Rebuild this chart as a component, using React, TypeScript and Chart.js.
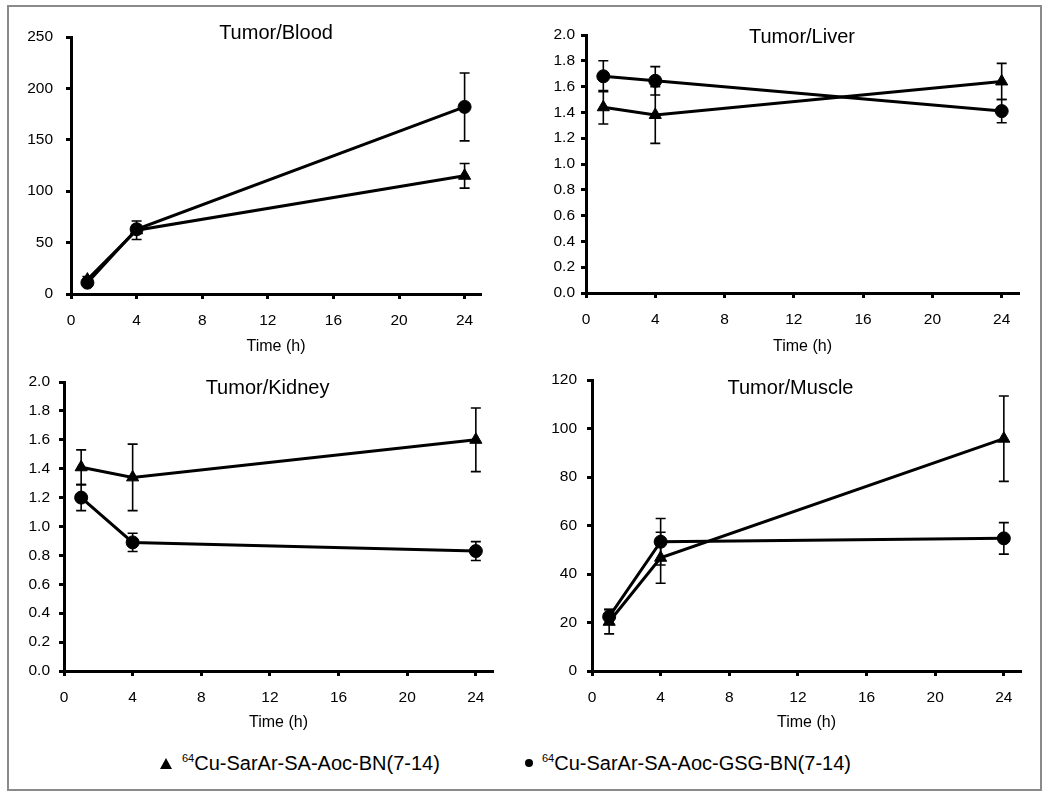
import React, { useEffect, useRef } from 'react';
import { Chart, registerables } from 'chart.js';

Chart.register(...registerables);

const FONT = "'Liberation Sans', Arial, Helvetica, sans-serif";

// ---- data ----
const timePoints = [1, 4, 24];
const xTickValues = [0, 4, 8, 12, 16, 20, 24];
const seriesLabels = ['64Cu-SarAr-SA-Aoc-BN(7-14)', '64Cu-SarAr-SA-Aoc-GSG-BN(7-14)'];
const panelTitles = ['Tumor/Blood', 'Tumor/Liver', 'Tumor/Kidney', 'Tumor/Muscle'];
const xAxisTitle = 'Time (h)';

const bloodBN = [14, 62, 115];
const bloodBNErr = [3, 9, 12];
const bloodGSG = [11, 63, 182];
const bloodGSGErr = [2, 4, 33];

const liverBN = [1.44, 1.38, 1.64];
const liverBNErr = [0.13, 0.22, 0.14];
const liverGSG = [1.68, 1.645, 1.41];
const liverGSGErr = [0.12, 0.11, 0.09];

const kidneyBN = [1.41, 1.34, 1.6];
const kidneyBNErr = [0.12, 0.23, 0.22];
const kidneyGSG = [1.2, 0.89, 0.83];
const kidneyGSGErr = [0.09, 0.063, 0.065];

const muscleBN = [20.3, 46.7, 95.8];
const muscleBNErr = [5, 10.5, 17.6];
const muscleGSG = [22.4, 53.3, 54.7];
const muscleGSGErr = [3, 9.6, 6.5];

const yRanges = [
  { max: 250, step: 50, decimals: 0 },
  { max: 2, step: 0.2, decimals: 1 },
  { max: 2, step: 0.2, decimals: 1 },
  { max: 120, step: 20, decimals: 0 },
];

// ---- plugins ----
const errorBarPlugin = {
  id: 'errorBars',
  afterDatasetsDraw(chart: any) {
    const ctx = chart.ctx;
    const xs = chart.scales.x;
    const ys = chart.scales.y;
    ctx.save();
    ctx.strokeStyle = '#000';
    ctx.lineWidth = 1.6;
    chart.data.datasets.forEach((ds: any) => {
      const errs = ds.errors;
      if (!errs) return;
      ds.data.forEach((pt: any, j: number) => {
        const px = xs.getPixelForValue(pt.x);
        const top = ys.getPixelForValue(pt.y + errs[j]);
        const bot = ys.getPixelForValue(pt.y - errs[j]);
        ctx.beginPath();
        ctx.moveTo(px, top);
        ctx.lineTo(px, bot);
        ctx.moveTo(px - 5, top);
        ctx.lineTo(px + 5, top);
        ctx.moveTo(px - 5, bot);
        ctx.lineTo(px + 5, bot);
        ctx.stroke();
      });
    });
    ctx.restore();
  },
};

const panelTitlePlugin = {
  id: 'panelTitle',
  afterDraw(chart: any, _args: any, opts: any) {
    const { ctx, chartArea } = chart;
    ctx.save();
    ctx.font = `20px ${FONT}`;
    ctx.fillStyle = '#000';
    ctx.textAlign = 'center';
    ctx.textBaseline = 'middle';
    ctx.fillText(opts.text, chartArea.left + opts.dx, chartArea.top + opts.dy);
    ctx.restore();
  },
};

type PanelProps = {
  left: number;
  top: number;
  width: number;
  height: number;
  yWidth: number;
  padTop: number;
  padRight: number;
  xHeight: number;
  yPad: number;
  titleDx: number;
  titleDy: number;
  index: number;
  bn: number[];
  bnErr: number[];
  gsg: number[];
  gsgErr: number[];
};

function Panel(p: PanelProps) {
  const ref = useRef<HTMLCanvasElement>(null);
  useEffect(() => {
    if (!ref.current) return;
    const yr = yRanges[p.index];
    const mk = (vals: number[]) => timePoints.map((t, i) => ({ x: t, y: vals[i] }));
    const chart = new Chart(ref.current, {
      type: 'line',
      data: {
        datasets: [
          {
            label: seriesLabels[0],
            data: mk(p.bn),
            errors: p.bnErr,
            borderColor: '#000',
            borderWidth: 3,
            pointStyle: 'triangle',
            pointRadius: 7,
            pointBackgroundColor: '#000',
            pointBorderColor: '#000',
            pointBorderWidth: 1,
            tension: 0,
            fill: false,
            clip: false,
          } as any,
          {
            label: seriesLabels[1],
            data: mk(p.gsg),
            errors: p.gsgErr,
            borderColor: '#000',
            borderWidth: 3,
            pointStyle: 'circle',
            pointRadius: 6.5,
            pointBackgroundColor: '#000',
            pointBorderColor: '#000',
            pointBorderWidth: 1,
            tension: 0,
            fill: false,
            clip: false,
          } as any,
        ],
      },
      options: {
        animation: false,
        responsive: false,
        maintainAspectRatio: false,
        layout: { padding: { top: p.padTop, right: p.padRight, left: 0, bottom: 0 } },
        plugins: {
          legend: { display: false },
          tooltip: { enabled: false },
          panelTitle: { text: panelTitles[p.index], dx: p.titleDx, dy: p.titleDy },
        } as any,
        scales: {
          x: {
            type: 'linear',
            min: 0,
            max: 25,
            afterBuildTicks: (s: any) => {
              s.ticks = xTickValues.map((v) => ({ value: v }));
            },
            afterFit: (s: any) => {
              s.height = p.xHeight;
            },
            ticks: {
              stepSize: 4,
              autoSkip: false,
              maxRotation: 0,
              padding: 12,
              color: '#000',
              font: { family: FONT, size: 15.5 },
            },
            grid: {
              drawOnChartArea: false,
              drawTicks: true,
              tickLength: 5,
              tickWidth: 3,
              tickColor: '#000',
            },
            border: { display: true, color: '#000', width: 3 },
            title: {
              display: true,
              text: xAxisTitle,
              color: '#000',
              font: { family: FONT, size: 16 },
              padding: { top: 0, bottom: 0 },
            },
          },
          y: {
            type: 'linear',
            min: 0,
            max: yr.max,
            afterFit: (s: any) => {
              s.width = p.yWidth;
            },
            ticks: {
              stepSize: yr.step,
              autoSkip: false,
              padding: p.yPad,
              color: '#000',
              font: { family: FONT, size: 15.5 },
              callback: (v: any) => Number(v).toFixed(yr.decimals),
            },
            grid: {
              drawOnChartArea: false,
              drawTicks: true,
              tickLength: 5,
              tickWidth: 3,
              tickColor: '#000',
            },
            border: { display: true, color: '#000', width: 3 },
          },
        },
      } as any,
      plugins: [errorBarPlugin, panelTitlePlugin],
    });
    return () => chart.destroy();
  }, []);
  return (
    <canvas
      ref={ref}
      width={p.width}
      height={p.height}
      style={{ position: 'absolute', left: p.left, top: p.top, width: p.width, height: p.height }}
    />
  );
}

export default function App() {
  const legendText: React.CSSProperties = {
    position: 'absolute',
    top: 753,
    fontFamily: FONT,
    fontSize: 20,
    lineHeight: '20px',
    color: '#000',
    whiteSpace: 'nowrap',
  };
  const sup: React.CSSProperties = { fontSize: 11, position: 'relative', top: -8 };
  return (
    <div style={{ position: 'absolute', left: 0, top: 0, width: 1050, height: 807, background: '#fff' }}>
      <div
        style={{
          position: 'absolute',
          left: 7,
          top: 5,
          width: 1035,
          height: 786,
          border: '2px solid #8a8a8a',
          boxSizing: 'border-box',
        }}
      />
      <Panel left={10} top={8} width={510} height={348} yWidth={61} padTop={29} padRight={39} xHeight={62} yPad={13}
        titleDx={205} titleDy={-4} index={0} bn={bloodBN} bnErr={bloodBNErr} gsg={bloodGSG} gsgErr={bloodGSGErr} />
      <Panel left={530} top={6} width={508} height={350} yWidth={56} padTop={29} padRight={19} xHeight={63} yPad={6}
        titleDx={216} titleDy={2} index={1} bn={liverBN} bnErr={liverBNErr} gsg={liverGSG} gsgErr={liverGSGErr} />
      <Panel left={10} top={356} width={510} height={376} yWidth={54} padTop={26} padRight={27} xHeight={61} yPad={9}
        titleDx={203.5} titleDy={6} index={2} bn={kidneyBN} bnErr={kidneyBNErr} gsg={kidneyGSG} gsgErr={kidneyGSGErr} />
      <Panel left={530} top={356} width={508} height={376} yWidth={62} padTop={24} padRight={17} xHeight={61} yPad={10}
        titleDx={198.5} titleDy={8} index={3} bn={muscleBN} bnErr={muscleBNErr} gsg={muscleGSG} gsgErr={muscleGSGErr} />
      {/* legend */}
      <div
        style={{
          position: 'absolute',
          left: 159.5,
          top: 758,
          width: 0,
          height: 0,
          borderLeft: '6.5px solid transparent',
          borderRight: '6.5px solid transparent',
          borderBottom: '11px solid #000',
        }}
      />
      <div style={{ ...legendText, left: 182 }}>
        <span style={sup}>64</span>
        {seriesLabels[0].slice(2)}
      </div>
      <div
        style={{
          position: 'absolute',
          left: 525,
          top: 758.5,
          width: 8,
          height: 8,
          borderRadius: '50%',
          background: '#000',
        }}
      />
      <div style={{ ...legendText, left: 542 }}>
        <span style={sup}>64</span>
        {seriesLabels[1].slice(2)}
      </div>
    </div>
  );
}
